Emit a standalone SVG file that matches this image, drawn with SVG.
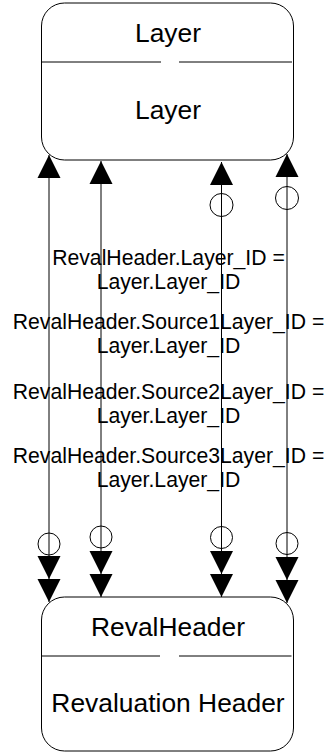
<svg xmlns="http://www.w3.org/2000/svg" xmlns:xlink="http://www.w3.org/1999/xlink" width="328" height="753" viewBox="0 0 328 753">
<style>
.box{fill:#fff;stroke:#000;stroke-width:1}
.div{stroke:#000;stroke-width:1;fill:none}
.t{font-family:"Liberation Sans",Arial,sans-serif;font-size:26.4px;fill:#000;text-anchor:middle}
.lbl{font-family:"Liberation Sans",Arial,sans-serif;font-size:21.2px;fill:#000;text-anchor:middle}
.ln{stroke:#000;stroke-width:1;fill:none}
.ring{stroke:#000;stroke-width:1;fill:none}
.ah{fill:#000;stroke:none}
</style>
<defs>
<path id="down" class="ah" d="M0,0 L-11.5,-23 L11.5,-23 Z"/>
<path id="up" class="ah" d="M0,0 L-11.5,23 L11.5,23 Z"/>
</defs>
<g id="node-layer">
<rect class="box" x="41.5" y="3" width="252" height="157" rx="23" ry="23"/>
<path class="div" d="M41.5,62 H161 M179,62 H292"/>
<text class="t" x="168" y="42">Layer</text>
<text class="t" x="168" y="119">Layer</text>
</g>
<g id="node-revalheader">
<rect class="box" x="41.5" y="597" width="252" height="154" rx="23" ry="23"/>
<path class="div" d="M41.5,656 H160 M179,656 H291.5"/>
<text class="t" x="168" y="635.5">RevalHeader</text>
<text class="t" x="168" y="712">Revaluation Header</text>
</g>
<g id="connectors">
<path class="ln" d="M49,155 V602 M101,161 V597 M221.5,162 V597 M287,154 V603"/>
<use xlink:href="#up" x="49" y="155"/>
<use xlink:href="#up" x="101" y="161"/>
<use xlink:href="#up" x="221.5" y="162"/>
<use xlink:href="#up" x="287" y="154"/>
<circle class="ring" cx="221.5" cy="205" r="11.5"/>
<circle class="ring" cx="287" cy="198" r="11.5"/>
<circle class="ring" cx="49" cy="544" r="11"/>
<circle class="ring" cx="101" cy="537" r="11"/>
<circle class="ring" cx="221.5" cy="537.5" r="11"/>
<circle class="ring" cx="287" cy="543.5" r="11"/>
<use xlink:href="#down" x="49" y="579"/>
<use xlink:href="#down" x="49" y="602"/>
<use xlink:href="#down" x="101" y="574"/>
<use xlink:href="#down" x="101" y="597"/>
<use xlink:href="#down" x="221.5" y="574"/>
<use xlink:href="#down" x="221.5" y="597"/>
<use xlink:href="#down" x="287" y="580"/>
<use xlink:href="#down" x="287" y="603"/>
</g>
<g id="labels">
<text class="lbl" x="168.5" y="265">RevalHeader.Layer_ID =</text>
<text class="lbl" x="168.5" y="289">Layer.Layer_ID</text>
<text class="lbl" x="168.5" y="329">RevalHeader.Source1Layer_ID =</text>
<text class="lbl" x="168.5" y="353">Layer.Layer_ID</text>
<text class="lbl" x="168.5" y="399">RevalHeader.Source2Layer_ID =</text>
<text class="lbl" x="168.5" y="423">Layer.Layer_ID</text>
<text class="lbl" x="168.5" y="463">RevalHeader.Source3Layer_ID =</text>
<text class="lbl" x="168.5" y="487">Layer.Layer_ID</text>
</g>
</svg>
